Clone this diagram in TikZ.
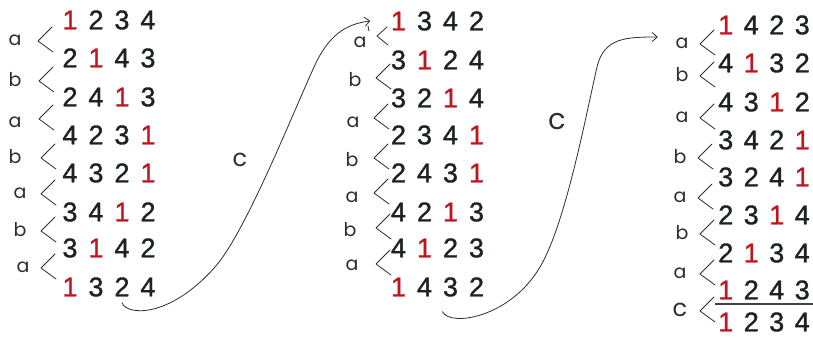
\documentclass[tikz,border=0pt]{standalone}
\usepackage{fontspec}
\setmainfont{Liberation Sans}
\newfontface\digfont{Liberation Sans}[FakeBold=1.2]
\newfontfamily\hand{Poppins}
\usetikzlibrary{arrows.meta,calc}
\definecolor{ink}{RGB}{30,34,36}
\definecolor{redd}{RGB}{192,20,30}
\definecolor{pen}{RGB}{45,45,45}
\newlength{\dgw}
\setlength{\dgw}{26pt}
\newcommand{\R}[1]{\textcolor{redd}{#1}}
\newcommand{\dg}[1]{\makebox[\dgw]{#1}}
\newcommand{\prow}[4]{\dg{#1}\dg{#2}\dg{#3}\dg{#4}}
\newcommand{\chv}[2]{\draw[chev] ({#1+7},{#2-13}) -- ({#1-7},{#2+1}) -- ({#1+8},{#2+12});}
\tikzset{
  perm/.style={inner sep=0pt, font=\digfont\fontsize{27}{27}\selectfont, text=ink},
  lbl/.style={inner sep=0pt, font=\hand\fontsize{19}{19}\selectfont, text=pen},
  biglbl/.style={inner sep=0pt, font=\hand\fontsize{24}{24}\selectfont, text=pen},
  chev/.style={draw=pen, line width=0.8pt, line cap=round, line join=round},
  cArrow/.style={draw=pen, line width=0.8pt, line cap=round, -{Straight Barb[length=5pt,width=9pt]}},
}
\begin{document}
\begin{tikzpicture}[x=1pt,y=-1pt]
\useasboundingbox (0,0) rectangle (813,337);
% column 1
\node[perm] (A1) at (109,20)  {\prow{\R1}{2}{3}{4}};
\node[perm] (A2) at (109,58)  {\prow{2}{\R1}{4}{3}};
\node[perm] (A3) at (109,97)  {\prow{2}{4}{\R1}{3}};
\node[perm] (A4) at (109,135) {\prow{4}{2}{3}{\R1}};
\node[perm] (A5) at (109,173) {\prow{4}{3}{2}{\R1}};
\node[perm] (A6) at (109,212) {\prow{3}{4}{\R1}{2}};
\node[perm] (A7) at (109,248) {\prow{3}{\R1}{4}{2}};
\node[perm] (A8) at (109,287) {\prow{\R1}{3}{2}{4}};
\node[lbl] (la1) at (15,40) {a};
\node[lbl] (la2) at (15,80) {b};
\node[lbl] (la3) at (15,122) {a};
\node[lbl] (la4) at (15,157) {b};
\node[lbl] (la5) at (20,193) {a};
\node[lbl] (la6) at (20,230) {b};
\node[lbl] (la7) at (23,267) {a};
\chv{45}{40} \chv{46}{80} \chv{46}{118} \chv{48}{157} \chv{48}{193} \chv{48}{230} \chv{48}{267}
% column 2
\node[perm] (B1) at (437.5,21)  {\prow{\R1}{3}{4}{2}};
\node[perm] (B2) at (437.5,60)  {\prow{3}{\R1}{2}{4}};
\node[perm] (B3) at (437.5,98)  {\prow{3}{2}{\R1}{4}};
\node[perm] (B4) at (437.5,135) {\prow{2}{3}{4}{\R1}};
\node[perm] (B5) at (437.5,173) {\prow{2}{4}{3}{\R1}};
\node[perm] (B6) at (437.5,212) {\prow{4}{2}{\R1}{3}};
\node[perm] (B7) at (437.5,248) {\prow{4}{\R1}{2}{3}};
\node[perm] (B8) at (437.5,287) {\prow{\R1}{4}{3}{2}};
\node[lbl] (lb1) at (360,42) {a};
\node[lbl] (lb2) at (355,80) {b};
\node[lbl] (lb3) at (353,122) {a};
\node[lbl] (lb4) at (352,160) {b};
\node[lbl] (lb5) at (352,197) {a};
\node[lbl] (lb6) at (350,230) {b};
\node[lbl] (lb7) at (352,265) {a};
\draw[chev] (387,27) -- (377,36) -- (388,45);
\draw[chev] (368,26) -- (369,31);
\chv{383}{77} \chv{381}{117} \chv{381}{157} \chv{381}{192} \chv{383}{227} \chv{383}{263}
% column 3
\setlength{\dgw}{25.5pt}
\node[perm] (C1) at (764,25)  {\prow{\R1}{4}{2}{3}};
\node[perm] (C2) at (764,63)  {\prow{4}{\R1}{3}{2}};
\node[perm] (C3) at (764,102) {\prow{4}{3}{\R1}{2}};
\node[perm] (C4) at (764,140) {\prow{3}{4}{2}{\R1}};
\node[perm] (C5) at (764,177) {\prow{3}{2}{4}{\R1}};
\node[perm] (C6) at (764,215) {\prow{2}{3}{\R1}{4}};
\node[perm] (C7) at (764,253) {\prow{2}{\R1}{3}{4}};
\node[perm] (C8) at (764,290) {\prow{\R1}{2}{4}{3}};
\node[perm] (C9) at (764,322) {\prow{\R1}{2}{3}{4}};
\draw[ink!85, line width=1.5pt] (715,304) -- (813,304);
\node[lbl] (lc1) at (682,43) {a};
\node[lbl] (lc2) at (682,75) {b};
\node[lbl] (lc3) at (682,117) {a};
\node[lbl] (lc4) at (680,157) {b};
\node[lbl] (lc5) at (680,197) {a};
\node[lbl] (lc6) at (682,233) {b};
\node[lbl] (lc7) at (680,273) {a};
\node[biglbl] (lc8) at (680,310) {c};
\chv{707}{43} \chv{707}{75} \chv{707}{117} \chv{705}{157} \chv{705}{197} \chv{707}{233} \chv{707}{273} \chv{707}{310}
% connectors
\draw[cArrow] ([xshift=13pt,yshift=-6pt]A8.south) .. controls (127,316) and (170,318) .. (215,267)
  .. controls (245,233) and (290,120) .. (314,67)
  .. controls (328,36) and (345,24) .. ([xshift=-15pt]B1.west);
\node[biglbl] (cl1) at (240,160) {c};
\draw[cArrow] ([xshift=5pt,yshift=-15pt]B8.south) .. controls (450,327) and (510,318) .. (540,267)
  .. controls (565,225) and (585,120) .. (597,67)
  .. controls (604,38) and (625,37) .. ([xshift=-55pt,yshift=-12pt]C1.west);
\node[biglbl, font=\hand\fontsize{29}{29}\selectfont] (cl2) at (557,122) {c};
\end{tikzpicture}
\end{document}
